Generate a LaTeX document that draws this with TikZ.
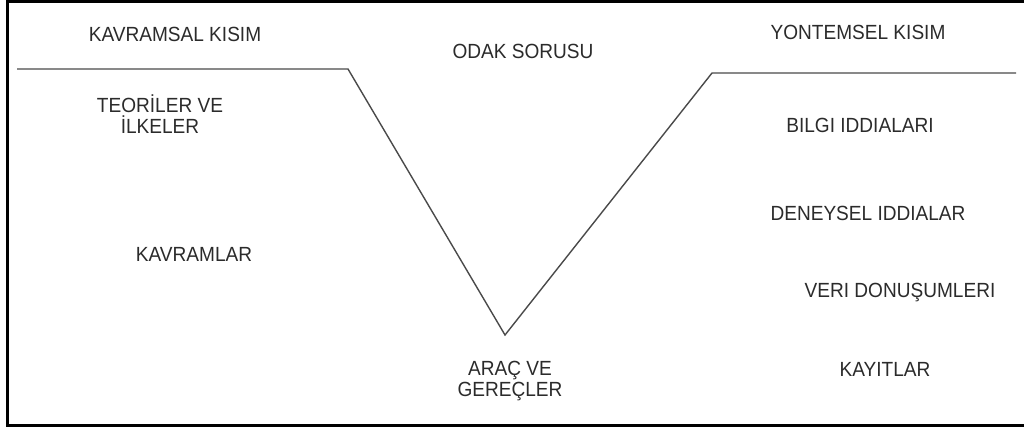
\documentclass[tikz,border=0pt]{standalone}
\usepackage{fontspec}
\setmainfont{Liberation Sans}[FakeStretch=0.93]
\definecolor{txtgray}{HTML}{2B2B2B}
\definecolor{linegray}{HTML}{4A4A4A}
\begin{document}
\begin{tikzpicture}[x=1pt,y=-1pt,
  lbl/.style={text=txtgray,font=\fontsize{20.5}{23}\selectfont,inner sep=0pt,align=center},
  vline/.style={draw=linegray,line width=1.4pt,line join=miter}]
\useasboundingbox (0,0) rectangle (1024,430);
\begin{scope}
\clip (0,0) rectangle (1024,430);
\draw[black,line width=3pt] (7,1.5) rectangle (1035,425);
\end{scope}
% V shape corners
\coordinate (l0) at (17,69);
\coordinate (l1) at (348,69);
\coordinate (v) at (505,335);
\coordinate (r1) at (712,73);
\coordinate (r0) at (1016,73);
\draw[vline] (l0) -- (l1) -- (v) -- (r1) -- (r0);
% labels
\node[lbl] (kavsal) at (175,34) {KAVRAMSAL KISIM};
\node[lbl] (odak) at (523,51) {ODAK SORUSU};
\node[lbl] (yont) at (858,32) {YONTEMSEL KISIM};
\node[lbl] (teori) at (160,114) {TEORİLER VE\\[-2pt]İLKELER};
\node[lbl] (kavram) at (194,254) {KAVRAMLAR};
\node[lbl] (bilgi) at (860,125) {BILGI IDDIALARI};
\node[lbl] (deney) at (868,213) {DENEYSEL IDDIALAR};
\node[lbl] (veri) at (900,293) {VERI DONUŞUMLERI};
\node[lbl] (kayit) at (885,369) {KAYITLAR};
\node[lbl] (arac) at (510,381) {ARAÇ VE\\[-2pt]GEREÇLER};
\end{tikzpicture}
\end{document}
